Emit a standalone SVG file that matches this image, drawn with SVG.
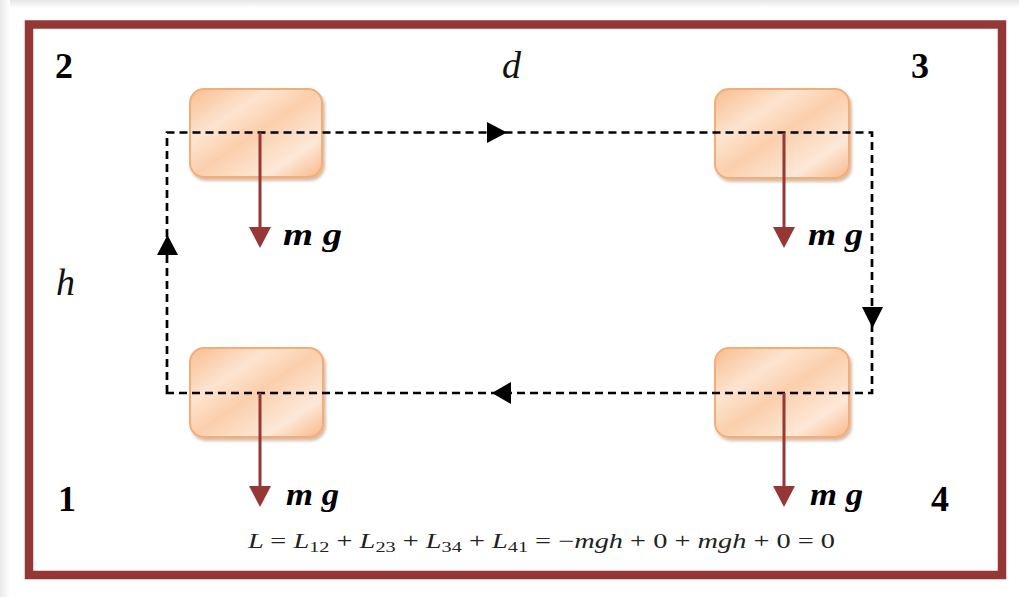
<svg xmlns="http://www.w3.org/2000/svg" width="1019" height="597" viewBox="0 0 1019 597">
<style>
.num{font-family:"Liberation Serif",serif;font-weight:bold;font-size:36px;fill:#000}
.var{font-family:"Liberation Serif",serif;font-style:italic;font-size:38px;fill:#111}
.mg{font-family:"Liberation Serif",serif;font-weight:bold;font-style:italic;font-size:31px;fill:#000}
.eq{font-family:"Liberation Serif",serif;font-style:italic;font-size:21px;fill:#222}
.eqn{font-style:normal}
.box{fill:url(#og);stroke:#f5ad78;stroke-width:2;filter:url(#sh)}
.path{fill:none;stroke:#000;stroke-width:2.7;stroke-dasharray:8 5}
.w{stroke:#953735;stroke-width:3}
.wh{fill:#953735}
</style>
<defs>
<linearGradient id="og" x1="0" y1="0" x2="1" y2="1">
<stop offset="0" stop-color="#f8bd90"/>
<stop offset="0.3" stop-color="#fde4d0"/>
<stop offset="0.5" stop-color="#fbcfac"/>
<stop offset="0.78" stop-color="#fde8d8"/>
<stop offset="1" stop-color="#f7b888"/>
</linearGradient>
<filter id="sh" x="-10%" y="-10%" width="125%" height="130%">
<feDropShadow dx="2" dy="3" stdDeviation="1.5" flood-color="#a86a3c" flood-opacity="0.45"/>
</filter>
<linearGradient id="tg" x1="0" y1="0" x2="0" y2="1">
<stop offset="0" stop-color="#e6e6e6"/>
<stop offset="1" stop-color="#ffffff"/>
</linearGradient>
<linearGradient id="lg" x1="0" y1="0" x2="1" y2="0">
<stop offset="0" stop-color="#e9e9e9"/>
<stop offset="1" stop-color="#ffffff"/>
</linearGradient>
</defs>
<rect x="0" y="0" width="1019" height="597" fill="#fff"/>
<rect x="0" y="0" width="1019" height="8" fill="url(#tg)"/>
<rect x="0" y="0" width="10" height="597" fill="url(#lg)"/>
<rect x="29" y="24.5" width="973" height="550.5" fill="#fff" stroke="#953735" stroke-width="8.5"/>

<g id="label-2"><text class="num" x="55" y="78">2</text></g>
<g id="label-3"><text class="num" x="911" y="78">3</text></g>
<g id="label-1"><text class="num" x="58" y="511">1</text></g>
<g id="label-4"><text class="num" x="931" y="511">4</text></g>
<g id="label-d"><text class="var" x="502" y="78">d</text></g>
<g id="label-h"><text class="var" x="56" y="295">h</text></g>

<g id="box2"><rect class="box" x="190" y="89" width="132" height="88" rx="14"/></g>
<g id="box3"><rect class="box" x="715" y="89" width="134" height="89" rx="14"/></g>
<g id="box1"><rect class="box" x="190" y="348" width="133" height="89" rx="14"/></g>
<g id="box4"><rect class="box" x="715" y="348" width="134" height="89" rx="14"/></g>

<g id="connectors">
<path class="path" d="M167,393 L167,132.5 L872,132.5 L872,393 Z"/>
<polygon points="487,122 507,132.5 487,143"/>
<polygon points="862,307 883,307 872.5,328"/>
<polygon points="511,382 492,393 511,404"/>
<polygon points="157,255 178,255 167.5,235"/>
</g>

<g id="weight2">
<line class="w" x1="260" y1="132.5" x2="260" y2="229"/>
<polygon class="wh" points="249,227 271,227 260,248"/>
<text class="mg" x="283" y="245" textLength="59" lengthAdjust="spacingAndGlyphs">m g</text>
</g>
<g id="weight3">
<line class="w" x1="784" y1="132.5" x2="784" y2="229"/>
<polygon class="wh" points="773,227 795,227 784,248"/>
<text class="mg" x="808" y="245" textLength="55" lengthAdjust="spacingAndGlyphs">m g</text>
</g>
<g id="weight1">
<line class="w" x1="260" y1="393" x2="260" y2="488"/>
<polygon class="wh" points="249,486 271,486 260,507"/>
<text class="mg" x="286" y="505" textLength="53" lengthAdjust="spacingAndGlyphs">m g</text>
</g>
<g id="weight4">
<line class="w" x1="784" y1="393" x2="784" y2="488"/>
<polygon class="wh" points="773,486 795,486 784,507"/>
<text class="mg" x="810" y="505" textLength="53" lengthAdjust="spacingAndGlyphs">m g</text>
</g>

<g id="equation">
<text class="eq" x="248" y="548" textLength="587" lengthAdjust="spacingAndGlyphs">L <tspan class="eqn">=</tspan> L<tspan class="eqn" font-size="15" dy="4">12</tspan><tspan dy="-4"> </tspan><tspan class="eqn">+</tspan> L<tspan class="eqn" font-size="15" dy="4">23</tspan><tspan dy="-4"> </tspan><tspan class="eqn">+</tspan> L<tspan class="eqn" font-size="15" dy="4">34</tspan><tspan dy="-4"> </tspan><tspan class="eqn">+</tspan> L<tspan class="eqn" font-size="15" dy="4">41</tspan><tspan dy="-4"> </tspan><tspan class="eqn">= −</tspan>mgh <tspan class="eqn">+ 0 +</tspan> mgh <tspan class="eqn">+ 0 = 0</tspan></text>
</g>
</svg>
